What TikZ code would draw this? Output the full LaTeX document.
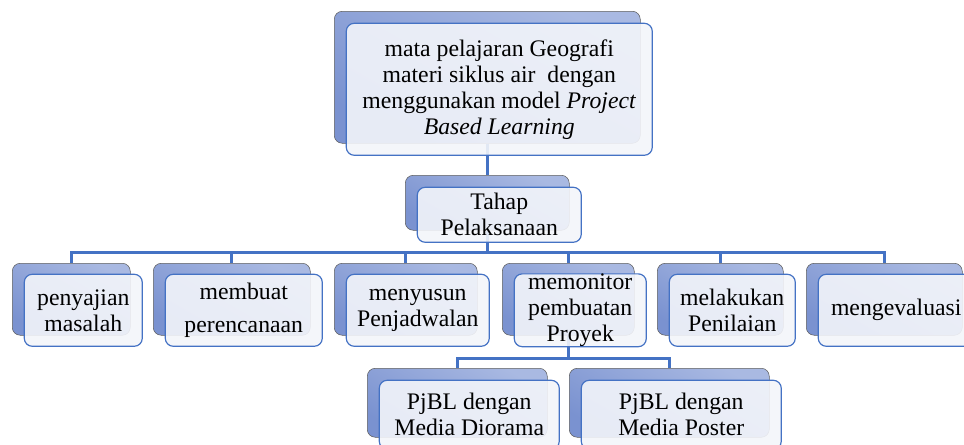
\documentclass[tikz,border=0pt]{standalone}
\usepackage{fontspec}
\setmainfont{Liberation Serif}
\usetikzlibrary{shapes}
\definecolor{linkblue}{HTML}{4472C4}
\definecolor{backlight}{HTML}{A9B9E2}
\definecolor{backdark}{HTML}{7A92D0}
\definecolor{backedge}{HTML}{5E5E5E}
\definecolor{frontfill}{HTML}{F3F5FA}
\tikzset{
	box size/.style 2 args = {
		minimum width=#1*0.75pt,
		minimum height=#2*0.75pt
	},
	node_back/.style = {
		rectangle,
		rounded corners=6pt,
		anchor=north west,
		draw=backedge,
		top color=backlight,
		bottom color=backdark,
		shading angle=-30,
		inner sep=0pt
	},
	node_front/.style = {
		rectangle,
		rounded corners=6pt,
		align=center,
		draw=linkblue,
		line width=0.9pt,
		fill=frontfill,
		fill opacity=0.9,
		text opacity=1,
		inner sep=0pt,
		font=\fontsize{17.8}{19.5}\selectfont
	},
	link/.style = {
		draw=linkblue,
		line width=2pt
	}
}

\begin{document}
\begin{tikzpicture}[x=0.75pt, y=-0.75pt]
\clip (0,0) rectangle (964,444);
% back boxes
\node [node_back, box size={306}{132}] (mapel_b) at (334,11) {};
\node [node_back, box size={164}{55}] (tahap_b) at (405,175) {};
\node [node_back, box size={118}{72}] (sajian_b) at (12,263) {};
\node [node_back, box size={157}{72}] (rencana_b) at (153,263) {};
\node [node_back, box size={143}{72}] (jadwal_b) at (334,263) {};
\node [node_back, box size={132}{72}] (monitor_b) at (502,263) {};
\node [node_back, box size={126}{72}] (nilai_b) at (657,263) {};
\node [node_back, box size={156}{72}] (evaluasi_b) at (806,263) {};
\node [node_back, box size={180}{69}] (diorama_b) at (367,368) {};
\node [node_back, box size={200}{69}] (poster_b) at (569,368) {};
% connectors
\draw [link] (mapel_b.south) -- (tahap_b.north);
\draw [link] (tahap_b.south) -- ++(0,22) coordinate (bus);
\foreach \n in {sajian,rencana,jadwal,monitor,nilai,evaluasi}
	\draw [link] (bus) -| (\n_b.north);
\draw [link] (monitor_b.south) -- ++(0,23) coordinate (bus2);
\foreach \n in {diorama,poster}
	\draw [link] (bus2) -| (\n_b.north);
% front boxes
\node [node_front, box size={306}{132}] (mapel) at ([shift={(12,12)}]mapel_b.center)
	{mata pelajaran Geografi\\materi siklus air~ dengan\\menggunakan model \textit{Project}\\\textit{Based Learning}};
\node [node_front, box size={164}{55}] (tahap) at ([shift={(12,12)}]tahap_b.center) {Tahap\\Pelaksanaan};
\node [node_front, box size={118}{72}] (sajian) at ([shift={(12,11)}]sajian_b.center) {penyajian\\masalah};
\node [node_front, box size={157}{72}] (rencana) at ([shift={(12,11)}]rencana_b.center) {membuat\\[5pt]perencanaan};
\node [node_front, box size={143}{72}] (jadwal) at ([shift={(12,11)}]jadwal_b.center) {menyusun\\Penjadwalan};
\node [node_front, box size={132}{72}] (monitor) at ([shift={(12,11)}]monitor_b.center) {memonitor\\pembuatan\\Proyek};
\node [node_front, box size={126}{72}] (nilai) at ([shift={(12,11)}]nilai_b.center) {melakukan\\Penilaian};
\node [node_front, box size={156}{72}] (evaluasi) at ([shift={(12,11)}]evaluasi_b.center) {mengevaluasi};
\node [node_front, box size={180}{69}] (diorama) at ([shift={(12,12)}]diorama_b.center) {PjBL dengan\\Media Diorama};
\node [node_front, box size={200}{69}] (poster) at ([shift={(12,12)}]poster_b.center) {PjBL dengan\\Media Poster};
\end{tikzpicture}
\end{document}
